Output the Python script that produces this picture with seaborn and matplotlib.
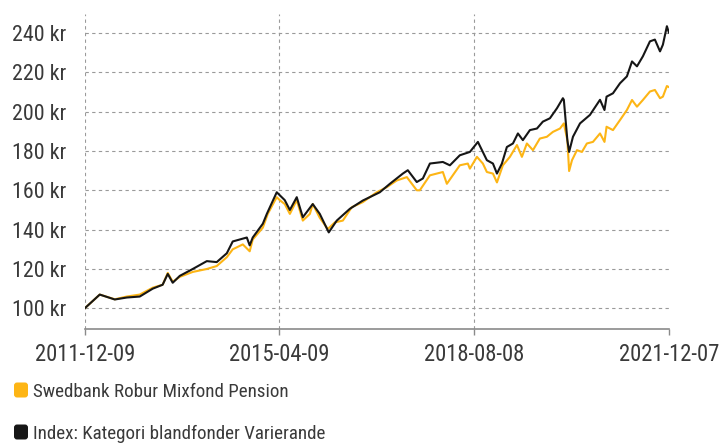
import pandas as pd
import matplotlib
matplotlib.use("Agg")
import matplotlib.pyplot as plt
import matplotlib.dates as mdates
from matplotlib import font_manager as fm
from matplotlib.patches import FancyBboxPatch
from matplotlib.transforms import IdentityTransform
import seaborn as sns

# Fund series (kr)
fund_dates = [
    "2011-12-09", "2012-03-12", "2012-06-14", "2012-08-28", "2012-11-17", "2013-02-06",
    "2013-04-09", "2013-05-11", "2013-06-11", "2013-07-25", "2013-10-14", "2014-01-10",
    "2014-03-13", "2014-05-15", "2014-06-21", "2014-08-23", "2014-10-05", "2014-10-24",
    "2014-12-26", "2015-01-26", "2015-03-23", "2015-04-11", "2015-05-12", "2015-06-13",
    "2015-07-26", "2015-09-02", "2015-10-16", "2015-11-03", "2015-12-17", "2016-02-05",
    "2016-03-20", "2016-05-09", "2016-07-04", "2016-09-11", "2016-12-07", "2017-02-08",
    "2017-04-11", "2017-06-13", "2017-08-14", "2017-09-02", "2017-11-04", "2018-01-24",
    "2018-02-18", "2018-03-27", "2018-05-10", "2018-06-29", "2018-07-12", "2018-08-25",
    "2018-10-01", "2018-10-26", "2018-12-03", "2018-12-28", "2019-02-03", "2019-03-19",
    "2019-05-02", "2019-06-02", "2019-07-03", "2019-08-10", "2019-09-22", "2019-11-05",
    "2019-12-13", "2020-01-26", "2020-02-19", "2020-03-12", "2020-03-23", "2020-04-10",
    "2020-05-11", "2020-06-11", "2020-07-12", "2020-08-19", "2020-10-02", "2020-10-30",
    "2020-11-12", "2020-12-22", "2021-02-04", "2021-03-19", "2021-04-20", "2021-05-21",
    "2021-06-27", "2021-08-10", "2021-09-10", "2021-10-12", "2021-10-30", "2021-11-24",
    "2021-12-07",
]
fund_values = [
    100, 107, 104.6, 106, 107, 110.5,
    112, 118, 113.5, 116, 118.5, 120,
    121.5, 126, 130, 132.5, 129, 135,
    141, 148, 156.5, 155, 153, 148,
    155, 144.6, 148, 153, 146, 140.3,
    143.7, 144.6, 151.4, 154, 159, 161.6,
    165, 166.7, 160, 160, 167.6, 169.3,
    163.3, 167.6, 172.7, 173.6, 171, 177,
    173.6, 169.3, 168.5, 164, 172.7, 177,
    183, 177, 183.8, 180.4, 186.3, 187.2,
    189.7, 191.4, 194, 185.5, 169.8, 175.3,
    180.4, 179.5, 183.8, 184.6, 188.9, 184.6,
    192.3, 190.6, 195.7, 200.8, 205.9, 202.5,
    205.9, 210.2, 211, 206.8, 207.6, 213,
    212.4,
]

# Category index series (kr)
index_dates = [
    "2011-12-09", "2012-03-12", "2012-06-14", "2012-08-28", "2012-11-17", "2013-02-06",
    "2013-04-09", "2013-05-11", "2013-06-11", "2013-07-25", "2013-10-14", "2014-01-10",
    "2014-03-13", "2014-05-15", "2014-06-21", "2014-09-17", "2014-10-05", "2014-10-24",
    "2014-12-26", "2015-01-20", "2015-03-23", "2015-05-12", "2015-06-13", "2015-07-26",
    "2015-09-02", "2015-11-03", "2015-12-17", "2016-02-11", "2016-04-01", "2016-06-22",
    "2016-09-11", "2016-12-26", "2017-02-27", "2017-05-19", "2017-06-19", "2017-08-14",
    "2017-09-21", "2017-11-04", "2018-01-24", "2018-03-09", "2018-05-10", "2018-07-12",
    "2018-08-31", "2018-10-26", "2018-12-03", "2018-12-28", "2019-01-28", "2019-02-28",
    "2019-04-07", "2019-05-08", "2019-06-08", "2019-07-22", "2019-09-04", "2019-10-11",
    "2019-11-24", "2020-01-07", "2020-02-13", "2020-02-19", "2020-03-12", "2020-03-23",
    "2020-04-16", "2020-05-30", "2020-07-31", "2020-10-02", "2020-10-30", "2020-11-12",
    "2020-12-22", "2021-02-04", "2021-03-19", "2021-04-20", "2021-05-21", "2021-06-27",
    "2021-08-10", "2021-09-10", "2021-10-12", "2021-10-30", "2021-11-24", "2021-12-07",
]
index_values = [
    100, 107, 104.5, 105.5, 106, 110,
    112, 117.5, 113, 116.5, 120, 124,
    123.5, 128, 134, 136, 132, 136,
    143, 148, 159, 155, 150, 156.5,
    146.3, 153, 148, 138.6, 144.6, 150.6,
    154.8, 159, 163.3, 168.5, 170.2, 164.2,
    166, 173.6, 174.4, 172.7, 177.8, 179.5,
    184.6, 175.3, 173.6, 168.5, 173.6, 182,
    183.8, 188.9, 185.5, 190.6, 191.4, 194.9,
    196.6, 201.7, 206.8, 206, 185.5, 179.5,
    187.2, 194, 198.3, 206, 200.8, 207.6,
    209.3, 214.4, 217.9, 225.5, 223, 228.1,
    235.7, 236.6, 230.6, 234, 243.4, 240,
]

fund_name = "Swedbank Robur Mixfond Pension"
index_name = "Index: Kategori blandfonder Varierande"
tick_dates = ["2011-12-09", "2015-04-09", "2018-08-08", "2021-12-07"]
y_ticks = [100, 120, 140, 160, 180, 200, 220, 240]

fund = pd.DataFrame({"date": pd.to_datetime(fund_dates), "value": fund_values})
index = pd.DataFrame({"date": pd.to_datetime(index_dates), "value": index_values})

# a narrow font like the original one
installed = {f.name for f in fm.fontManager.ttflist}
candidates = ["Ubuntu Condensed", "Roboto Condensed", "Asap Condensed",
              "Archivo Narrow", "DejaVu Sans"]
font = next(c for c in candidates if c in installed)

sns.set_theme(style="white")
plt.rcParams["font.family"] = [font, "DejaVu Sans"]

yellow = "#FDB515"
black = "#161616"
gray = "#3a3a3a"

fig = plt.figure(figsize=(7.24, 4.44), dpi=100)
renderer = fig.canvas.get_renderer()


def fit_size(s, target_px):
    # font size that gives the text the width it has in the original
    t = fig.text(0, 0, s, fontsize=10)
    w = t.get_window_extent(renderer=renderer).width
    t.remove()
    return 10 * target_px / w


fs_y = fit_size("240 kr", 54)
fs_x = fit_size("2011-12-09", 100)
fs_leg = fit_size(fund_name, 256)

ax = fig.add_axes([0.117, 0.259, 0.807, 0.709])

sns.lineplot(data=fund, x="date", y="value", color=yellow, linewidth=1.5, ax=ax)
sns.lineplot(data=index, x="date", y="value", color=black, linewidth=1.5, ax=ax)

ax.set_xlim(pd.Timestamp(tick_dates[0]), pd.Timestamp(tick_dates[-1]))
ax.set_ylim(89.5, 249.5)
ax.set_xticks(pd.to_datetime(tick_dates))
ax.xaxis.set_major_formatter(mdates.DateFormatter("%Y-%m-%d"))
ax.set_yticks(y_ticks)
ax.set_yticklabels([f"{v} kr" for v in y_ticks])
ax.set_xlabel("")
ax.set_ylabel("")

ax.grid(True, color="#9a9a9a", linestyle=(0, (3, 3)), linewidth=0.8)
ax.xaxis.get_gridlines()[-1].set_visible(False)
for s in ["top", "right", "left"]:
    ax.spines[s].set_visible(False)
ax.spines["bottom"].set_color("#8a8a8a")
ax.spines["bottom"].set_linewidth(1.2)
ax.tick_params(axis="y", length=0, pad=13, labelsize=fs_y, labelcolor=gray)
ax.tick_params(axis="x", length=4, width=1, color="#8a8a8a", direction="out",
               pad=6, labelsize=fs_x, labelcolor=gray, bottom=True)

# legend below the plot: rounded squares and labels
for i, (name, col) in enumerate([(fund_name, yellow), (index_name, black)]):
    yc = 54 - i * 42  # centre in pixels from the bottom
    fig.add_artist(FancyBboxPatch((15, yc - 6.5), 12, 13, boxstyle="round,pad=1,rounding_size=3",
                                  transform=IdentityTransform(), facecolor=col,
                                  edgecolor="none"))
    fig.text(33 / 724, yc / 444, name, fontsize=fs_leg, color=gray,
             ha="left", va="center_baseline")

fig.savefig("out.png", dpi=100)
